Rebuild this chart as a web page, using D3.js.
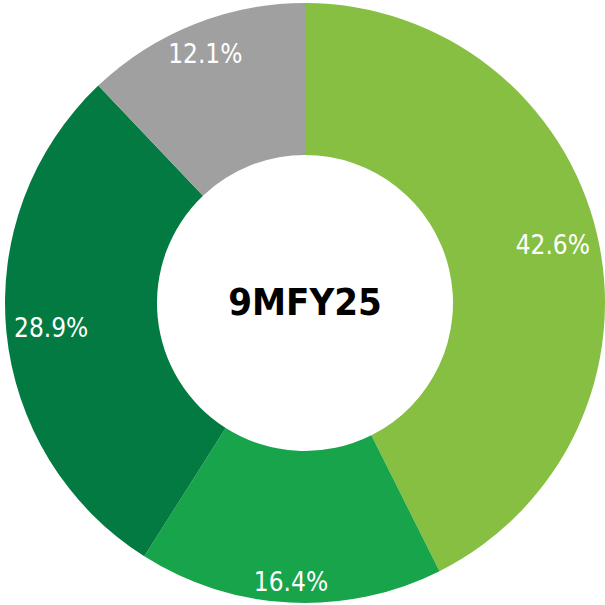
<!DOCTYPE html>
<html>
<head>
<meta charset="utf-8">
<script src="https://cdn.jsdelivr.net/npm/d3@7"></script>
<style>
  body { margin: 0; background: #fff; }
</style>
</head>
<body>
<div id="chart"></div>
<script>
var width = 605, height = 605;

var segments = ["Segment A", "Segment B", "Segment C", "Segment D"];
var values = [42.6, 16.4, 28.9, 12.1];
var colors = ["#86bf42", "#17a44a", "#037a42", "#a0a0a0"];
var centerLabel = "9MFY25";

var outerR = 300, innerR = 148;
var cx = 305, cy = 303;
var labelFont = 26;

var svg = d3.select("#chart")
  .append("svg")
    .attr("width", width)
    .attr("height", height);

var g = svg.append("g")
  .attr("transform", "translate(" + cx + "," + cy + ")");

var pie = d3.pie().sort(null).value(d => d)(values);
var arc = d3.arc().innerRadius(innerR).outerRadius(outerR);

g.selectAll("path")
  .data(pie)
  .join("path")
    .attr("d", arc)
    .attr("fill", (d, i) => colors[i]);

// labels: push box outward along the mid angle until its far corner hits the rim
var labels = g.selectAll("text.pct")
  .data(pie)
  .join("text")
    .attr("class", "pct")
    .attr("font-family", "DejaVu Sans Condensed, DejaVu Sans, sans-serif")
    .attr("font-size", labelFont)
    .attr("fill", "#fff")
    .attr("text-anchor", "middle")
    .text(d => d.data.toFixed(1) + "%");

var rimR = 293;
labels.each(function(d) {
  var w = this.getBBox().width, h = labelFont * 0.73;
  var a = (d.startAngle + d.endAngle) / 2;
  var ux = Math.sin(a), uy = -Math.cos(a);
  var lo = 0, hi = outerR;
  for (var k = 0; k < 40; k++) {
    var t = (lo + hi) / 2, m = 0;
    [-1, 1].forEach(sx => [-1, 1].forEach(sy => {
      var px = t * ux + sx * w / 2, py = t * uy + sy * h / 2;
      m = Math.max(m, Math.sqrt(px * px + py * py));
    }));
    if (m > rimR) hi = t; else lo = t;
  }
  d3.select(this)
    .attr("x", lo * ux)
    .attr("y", lo * uy + h / 2);
});

g.append("text")
  .attr("font-family", "DejaVu Sans Condensed, DejaVu Sans, sans-serif")
  .attr("font-weight", "bold")
  .attr("font-size", 38)
  .attr("fill", "#000")
  .attr("text-anchor", "middle")
  .attr("y", 12)
  .text(centerLabel);
</script>
</body>
</html>
